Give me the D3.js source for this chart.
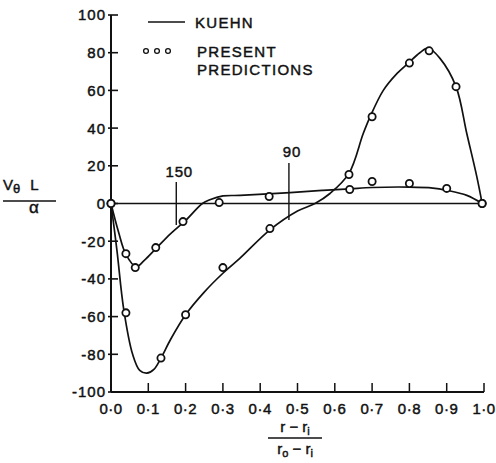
<!DOCTYPE html>
<html>
<head>
<meta charset="utf-8">
<script src="https://cdn.jsdelivr.net/npm/d3@7"></script>
<style>
  body { margin: 0; background: #fff; }
  text { font-family: "Liberation Sans", Arial, sans-serif; fill: #111; stroke: #111; stroke-width: 0.45px; }
</style>
</head>
<body>
<svg id="chart" width="496" height="463"></svg>
<script>
// Kuehn curve, case 150
const kuehn150X = [0, 0.02, 0.04, 0.067, 0.09, 0.12, 0.16, 0.2, 0.245, 0.265, 0.3, 0.346, 0.48, 0.568, 0.64, 0.7, 0.8, 0.863, 0.9, 0.954, 0.995];
const kuehn150Y = [0, -15, -27, -33.5, -30, -24, -16, -9, 0, 2, 4, 4.3, 5.8, 7, 7.8, 8.5, 8.7, 8.2, 7, 4.3, 0];
// present predictions, case 150
const pred150X = [0, 0.04, 0.065, 0.12, 0.193, 0.29, 0.424, 0.64, 0.7, 0.8, 0.9, 0.995];
const pred150Y = [0, -26.6, -34, -23.4, -9.6, 0.5, 3.7, 7.4, 11.7, 10.6, 8, 0];

// Kuehn curve, case 90
const kuehn90X = [0, 0.016, 0.034, 0.058, 0.077, 0.096, 0.115, 0.134, 0.16, 0.2, 0.25, 0.3, 0.346, 0.426, 0.5, 0.547, 0.587, 0.638, 0.676, 0.694, 0.73, 0.767, 0.797, 0.828, 0.85, 0.882, 0.925, 0.954, 0.981, 0.995];
const kuehn90Y = [0, -25, -56, -80, -88.5, -90, -88, -82, -72, -59, -47, -37, -29, -14, -4, 0, 5.3, 16, 37, 45.7, 60, 69, 74.5, 80, 82.5, 77, 62, 37, 14, 0];
// present predictions, case 90
const pred90X = [0, 0.04, 0.134, 0.2, 0.3, 0.426, 0.638, 0.7, 0.8, 0.853, 0.925, 0.995];
const pred90Y = [0, -58, -82, -59, -34, -13.3, 15.4, 46, 74.5, 81, 62, 0];

// case markers
const caseLabels = ["150", "90"];
const caseMarkX = [0.175, 0.477];
const caseMarkTop = [11.4, 21.5];
const caseMarkBottom = [-11.4, -8.8];
const caseLabelY = [14, 24.7];

const xTicks = [0, 0.1, 0.2, 0.3, 0.4, 0.5, 0.6, 0.7, 0.8, 0.9, 1.0];
const yTicks = [-100, -80, -60, -40, -20, 0, 20, 40, 60, 80, 100];

const svg = d3.select("#chart");
const x = d3.scaleLinear().domain([0, 1]).range([111, 484]);
const y = d3.scaleLinear().domain([-100, 100]).range([392, 15]);

const ink = "#111";

// axes
const g = svg.append("g");
g.append("line").attr("x1", x(0)).attr("x2", x(0)).attr("y1", y(100)).attr("y2", y(-100))
  .attr("stroke", ink).attr("stroke-width", 2);
g.append("line").attr("x1", x(0)).attr("x2", x(1)).attr("y1", y(-100)).attr("y2", y(-100))
  .attr("stroke", ink).attr("stroke-width", 2);
// zero line
g.append("line").attr("x1", x(0)).attr("x2", x(1)).attr("y1", y(0)).attr("y2", y(0))
  .attr("stroke", ink).attr("stroke-width", 1.6);

// y ticks
g.selectAll(".yt").data(yTicks).join("line")
  .attr("x1", x(0) - 3).attr("x2", x(0) + 7)
  .attr("y1", (d) => y(d)).attr("y2", (d) => y(d))
  .attr("stroke", ink).attr("stroke-width", 1.6);
g.selectAll(".yl").data(yTicks).join("text")
  .attr("x", x(0) - 5).attr("y", (d) => y(d)).attr("dy", "0.36em")
  .attr("text-anchor", "end").style("font-size", "15px")
  .style("letter-spacing", "1px")
  .text((d) => (d < 0 ? "-" + Math.abs(d) : d));

// x ticks
g.selectAll(".xt").data(xTicks).join("line")
  .attr("x1", (d) => x(d)).attr("x2", (d) => x(d))
  .attr("y1", y(-100)).attr("y2", y(-100) - 9)
  .attr("stroke", ink).attr("stroke-width", 1.5);
g.selectAll(".xl").data(xTicks).join("text")
  .attr("x", (d) => x(d)).attr("y", 414)
  .attr("text-anchor", "middle").style("font-size", "15px")
  .style("letter-spacing", "0.5px")
  .text((d) => d3.format(".1f")(d).replace(".", "·"));

// curves
const line = d3.line().x((d) => x(d[0])).y((d) => y(d[1])).curve(d3.curveCatmullRom.alpha(0.5));
[[kuehn150X, kuehn150Y], [kuehn90X, kuehn90Y]].forEach(([xs, ys]) => {
  svg.append("path")
    .attr("d", line(xs.map((v, i) => [v, ys[i]])))
    .attr("fill", "none").attr("stroke", ink).attr("stroke-width", 1.7);
});

// prediction circles
[[pred150X, pred150Y], [pred90X, pred90Y]].forEach(([xs, ys]) => {
  svg.append("g").selectAll("circle").data(xs.map((v, i) => [v, ys[i]])).join("circle")
    .attr("cx", (d) => x(d[0])).attr("cy", (d) => y(d[1])).attr("r", 3.6)
    .attr("fill", "#fff").attr("stroke", ink).attr("stroke-width", 1.8);
});

// case markers
caseLabels.forEach((lab, i) => {
  svg.append("line")
    .attr("x1", x(caseMarkX[i])).attr("x2", x(caseMarkX[i]))
    .attr("y1", y(caseMarkTop[i])).attr("y2", y(caseMarkBottom[i]))
    .attr("stroke", ink).attr("stroke-width", 1.4);
  svg.append("text")
    .attr("x", x(caseMarkX[i]) + 3).attr("y", y(caseLabelY[i]))
    .attr("text-anchor", "middle").style("font-size", "15px")
    .style("letter-spacing", "0.8px").text(lab);
});

// legend
const leg = svg.append("g");
leg.append("line").attr("x1", 148).attr("x2", 185).attr("y1", 22).attr("y2", 22)
  .attr("stroke", ink).attr("stroke-width", 1.5);
leg.append("text").attr("x", 195).attr("y", 28).style("font-size", "15px")
  .style("letter-spacing", "1.3px").text("KUEHN");
leg.selectAll("circle").data([146, 157, 168]).join("circle")
  .attr("cx", (d) => d).attr("cy", 51).attr("r", 2.4)
  .attr("fill", "none").attr("stroke", ink).attr("stroke-width", 1.3);
leg.append("text").attr("x", 197).attr("y", 57).style("font-size", "15px")
  .style("letter-spacing", "1.3px").text("PRESENT");
leg.append("text").attr("x", 197).attr("y", 75).style("font-size", "15px")
  .style("letter-spacing", "1.3px").text("PREDICTIONS");

// y axis label: V_theta L / alpha
const yl = svg.append("g");
yl.append("text").attr("x", 3).attr("y", 190).style("font-size", "15px")
  .html('V<tspan dy="3" font-size="13">θ</tspan><tspan dy="-3" dx="10">L</tspan>');
yl.append("line").attr("x1", 3).attr("x2", 56).attr("y1", 201).attr("y2", 201)
  .attr("stroke", ink).attr("stroke-width", 1.3);
yl.append("text").attr("x", 34).attr("y", 213).attr("text-anchor", "middle")
  .style("font-size", "17px").text("α");

// x axis label: (r - r_i) / (r_o - r_i)
const xl = svg.append("g");
xl.append("text").attr("x", 295).attr("y", 432).attr("text-anchor", "middle")
  .style("font-size", "15px")
  .html('r − r<tspan dy="3" font-size="11">i</tspan>');
xl.append("line").attr("x1", 268).attr("x2", 322).attr("y1", 438).attr("y2", 438)
  .attr("stroke", ink).attr("stroke-width", 1.3);
xl.append("text").attr("x", 295).attr("y", 454).attr("text-anchor", "middle")
  .style("font-size", "15px")
  .html('r<tspan dy="3" font-size="11">o</tspan><tspan dy="-3"> − r</tspan><tspan dy="3" font-size="11">i</tspan>');
</script>
</body>
</html>
